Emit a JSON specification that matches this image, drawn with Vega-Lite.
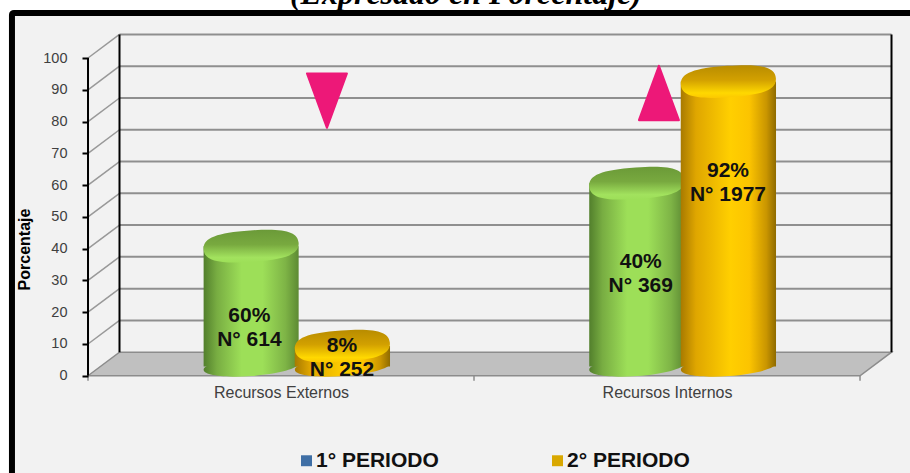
{
"$schema":"https://vega.github.io/schema/vega-lite/v6.json",
"width":910,"height":473,"autosize":"none","padding":0,"background":"#ffffff",
"config":{"view":{"stroke":null},"font":"Liberation Sans"},
"datasets":{
"frame":[{"x":-0.197,"x2":2.3,"y":114.2,"y2":-40}],
"floor":[{"x":0,"y":0,"y2":0},{"x":0.0816,"y":7.42,"y2":0},{"x":2,"y":7.42,"y2":0},{"x":2.0816,"y":7.42,"y2":7.42}],
"hgrid":[{"x":0.0816,"x2":2.0816,"y":17.42},{"x":0.0816,"x2":2.0816,"y":27.42},{"x":0.0816,"x2":2.0816,"y":37.42},{"x":0.0816,"x2":2.0816,"y":47.42},{"x":0.0816,"x2":2.0816,"y":57.42},{"x":0.0816,"x2":2.0816,"y":67.42},{"x":0.0816,"x2":2.0816,"y":77.42},{"x":0.0816,"x2":2.0816,"y":87.42},{"x":0.0816,"x2":2.0816,"y":97.42},{"x":0.0816,"x2":2.0816,"y":107.42}],
"diag":[{"x":0,"x2":0.0816,"y":10,"y2":17.42},{"x":0,"x2":0.0816,"y":20,"y2":27.42},{"x":0,"x2":0.0816,"y":30,"y2":37.42},{"x":0,"x2":0.0816,"y":40,"y2":47.42},{"x":0,"x2":0.0816,"y":50,"y2":57.42},{"x":0,"x2":0.0816,"y":60,"y2":67.42},{"x":0,"x2":0.0816,"y":70,"y2":77.42},{"x":0,"x2":0.0816,"y":80,"y2":87.42},{"x":0,"x2":0.0816,"y":90,"y2":97.42},{"x":0,"x2":0.0816,"y":100,"y2":107.42}],
"walls":[{"x":0,"y":0,"y2":100},{"x":0.0816,"y":7.42,"y2":107.42},{"x":2.0816,"y":7.42,"y2":107.42}],
"xticks":[{"x":0,"y":0,"y2":-1.6},{"x":1,"y":0,"y2":-1.6},{"x":2,"y":0,"y2":-1.6}],
"green":[{"categoria":"Recursos Externos","x":0.2995,"x2":0.5457,"xc":0.4226,"y":40.8,"y2":2.9},{"categoria":"Recursos Internos","x":1.2985,"x2":1.5447,"xc":1.4216,"y":60.6,"y2":2.9}],
"orange":[{"categoria":"Recursos Externos","x":0.5356,"x2":0.7824,"xc":0.659,"y":9.35,"y2":2.9},{"categoria":"Recursos Internos","x":1.5356,"x2":1.7824,"xc":1.659,"y":92.6,"y2":2.9}],
"marksDown":[{"x":0.619,"y":86.6}],
"marksUp":[{"x":1.479,"y":89}],
"labels":[{"x":0.418,"y":18.7,"label":"60%\nN° 614"},{"x":0.658,"y":9.4,"label":"8%\nN° 252"},{"x":1.432,"y":35.8,"label":"40%\nN° 369"},{"x":1.658,"y":64.4,"label":"92%\nN° 1977"}],
"title":[{"x":0.979,"y":117,"text":"(Expresado en Porcentaje)"}],
"legend":[{"x":0.6,"y":-25,"periodo":"1° PERIODO"},{"x":1.25,"y":-25,"periodo":"2° PERIODO"}]
},
"encoding":{
"x":{"field":"x","type":"quantitative","scale":{"domain":[-0.228,2.1295],"nice":false,"zero":false},
"axis":{"title":null,"zindex":1,"values":[0.5,1.5],"grid":false,"domain":false,"ticks":false,"offset":-97.3,"labelPadding":9,"labelFontSize":16,"labelColor":"#404040","labelFont":"Liberation Sans","labelOverlap":false,"labelFlush":false,
"labelExpr":"datum.value==0.5?'Recursos Externos':'Recursos Internos'"}},
"y":{"field":"y","type":"quantitative","scale":{"domain":[-30.6,118.26],"nice":false,"zero":false},
"axis":{"title":"Porcentaje","zindex":1,"values":[0,10,20,30,40,50,60,70,80,90,100],"grid":false,"domain":false,"offset":-88,"tickSize":6,"tickWidth":2,"tickColor":"#000000","labelPadding":15,"labelFontSize":14.5,"labelColor":"#404040","labelFont":"Liberation Sans","titleFontSize":16,"titleFontWeight":"bold","titleColor":"#000000","titleFont":"Liberation Sans","titleX":-64,"titleY":249,"titleAngle":-90,"titleAlign":"center","titleBaseline":"middle"}}
},
"layer":[
{"data":{"name":"title"},"mark":{"type":"text","font":"Liberation Serif","fontStyle":"italic","fontWeight":"bold","fontSize":32,"align":"center","baseline":"alphabetic","color":"#000000"},"encoding":{"text":{"field":"text"}}},
{"data":{"name":"frame"},"mark":{"type":"rect","fill":"#f2f2f2","stroke":"#000000","strokeWidth":6,"cornerRadius":2},"encoding":{"x2":{"field":"x2"},"y2":{"field":"y2"}}},
{"data":{"name":"hgrid"},"mark":{"type":"rule","color":"#8f8f8f","strokeWidth":2},"encoding":{"x2":{"field":"x2"}}},
{"data":{"name":"diag"},"mark":{"type":"rule","color":"#999999","strokeWidth":1.5},"encoding":{"x2":{"field":"x2"},"y2":{"field":"y2"}}},
{"data":{"name":"floor"},"mark":{"type":"area","fill":"#c0c0c0","stroke":"#8c8c8c","strokeWidth":1.5,"opacity":1},"encoding":{"y2":{"field":"y2"}}},
{"data":{"name":"walls"},"mark":{"type":"rule","color":"#000000","strokeWidth":2},"encoding":{"y2":{"field":"y2"}}},
{"data":{"name":"xticks"},"mark":{"type":"rule","color":"#8c8c8c","strokeWidth":1.5},"encoding":{"y2":{"field":"y2"}}},
{"data":{"name":"green"},"mark":{"type":"point","filled":true,"opacity":1,"size":9025,"shape":"M1,-.07C1.008,.04,.566,.161,.014,.2C-.538,.239,-.992,.18,-1,.07C-1.008,-.04,-.566,-.161,-.014,-.2C.538,-.239,.992,-.18,1,-.07Z","fill":{"x1":0,"y1":0,"x2":1,"y2":0,"gradient":"linear","stops":[{"offset":0,"color":"#527f2c"},{"offset":0.14,"color":"#78ad42"},{"offset":0.4,"color":"#9ddf58"},{"offset":0.62,"color":"#9ddf58"},{"offset":0.86,"color":"#7eb446"},{"offset":1,"color":"#5d8a33"}]},"stroke":null},"encoding":{"x":{"field":"xc","type":"quantitative"},"y":{"field":"y2","type":"quantitative"}}},
{"data":{"name":"green"},"mark":{"type":"rect","fill":{"x1":0,"y1":0,"x2":1,"y2":0,"gradient":"linear","stops":[{"offset":0,"color":"#527f2c"},{"offset":0.14,"color":"#78ad42"},{"offset":0.4,"color":"#9ddf58"},{"offset":0.62,"color":"#9ddf58"},{"offset":0.86,"color":"#7eb446"},{"offset":1,"color":"#5d8a33"}]}},"encoding":{"x2":{"field":"x2"},"y2":{"field":"y2"}}},
{"data":{"name":"green"},"mark":{"type":"point","filled":true,"opacity":1,"size":9025,"shape":"M1,-.07C1.017,.168,.743,.28,.023,.33C-.697,.38,-.983,.308,-1,.07C-1.017,-.168,-.743,-.28,-.023,-.33C.697,-.38,.983,-.308,1,-.07Z","fill":{"x1":0,"y1":0,"x2":0,"y2":1,"gradient":"linear","stops":[{"offset":0,"color":"#6b9a38"},{"offset":0.45,"color":"#78a93f"},{"offset":0.85,"color":"#a2e25e"},{"offset":1,"color":"#9ddf58"}]},"stroke":null},"encoding":{"x":{"field":"xc","type":"quantitative"}}},
{"data":{"name":"orange"},"mark":{"type":"point","filled":true,"opacity":1,"size":9025,"shape":"M1,-.07C1.008,.04,.566,.161,.014,.2C-.538,.239,-.992,.18,-1,.07C-1.008,-.04,-.566,-.161,-.014,-.2C.538,-.239,.992,-.18,1,-.07Z","fill":{"x1":0,"y1":0,"x2":1,"y2":0,"gradient":"linear","stops":[{"offset":0,"color":"#a87a00"},{"offset":0.16,"color":"#dfa600"},{"offset":0.52,"color":"#ffcf00"},{"offset":0.72,"color":"#fcc400"},{"offset":0.9,"color":"#c99500"},{"offset":1,"color":"#8f6b00"}]},"stroke":null},"encoding":{"x":{"field":"xc","type":"quantitative"},"y":{"field":"y2","type":"quantitative"}}},
{"data":{"name":"orange"},"mark":{"type":"rect","fill":{"x1":0,"y1":0,"x2":1,"y2":0,"gradient":"linear","stops":[{"offset":0,"color":"#a87a00"},{"offset":0.16,"color":"#dfa600"},{"offset":0.52,"color":"#ffcf00"},{"offset":0.72,"color":"#fcc400"},{"offset":0.9,"color":"#c99500"},{"offset":1,"color":"#8f6b00"}]}},"encoding":{"x2":{"field":"x2"},"y2":{"field":"y2"}}},
{"data":{"name":"orange"},"mark":{"type":"point","filled":true,"opacity":1,"size":9025,"shape":"M1,-.07C1.017,.168,.743,.28,.023,.33C-.697,.38,-.983,.308,-1,.07C-1.017,-.168,-.743,-.28,-.023,-.33C.697,-.38,.983,-.308,1,-.07Z","fill":{"x1":0,"y1":0,"x2":0,"y2":1,"gradient":"linear","stops":[{"offset":0,"color":"#b88c00"},{"offset":0.45,"color":"#d2a000"},{"offset":0.85,"color":"#ffd800"},{"offset":1,"color":"#fcc800"}]},"stroke":null},"encoding":{"x":{"field":"xc","type":"quantitative"}}},
{"data":{"name":"marksDown"},"mark":{"type":"point","filled":true,"opacity":1,"size":1600,"shape":"M-1,-1.36L1,-1.36L0,1.36Z","fill":"#ed1878","stroke":"#ed1878","strokeWidth":2,"strokeJoin":"round"}},
{"data":{"name":"marksUp"},"mark":{"type":"point","filled":true,"opacity":1,"size":1600,"shape":"M-1,1.36L1,1.36L0,-1.36Z","fill":"#ed1878","stroke":"#ed1878","strokeWidth":2,"strokeJoin":"round"}},
{"data":{"name":"labels"},"mark":{"type":"text","font":"Liberation Sans","fontWeight":"bold","fontSize":21,"lineBreak":"\n","lineHeight":24,"align":"center","baseline":"middle","color":"#111111"},"encoding":{"text":{"field":"label"}}},
{"data":{"name":"legend"},"mark":{"type":"point","filled":true,"opacity":0,"size":1,"shape":"square"},"encoding":{"color":{"field":"periodo","type":"nominal","scale":{"domain":["1° PERIODO","2° PERIODO"],"range":["#3f6fa5","#d9a800"]},"legend":{"orient":"none","legendX":296,"legendY":450,"direction":"horizontal","columns":2,"title":null,"columnPadding":108,"symbolType":"square","symbolSize":120,"symbolOpacity":1,"labelFontSize":21,"labelFontWeight":"bold","labelColor":"#111111","labelFont":"Liberation Sans","labelOffset":-1}}}}
]
}
